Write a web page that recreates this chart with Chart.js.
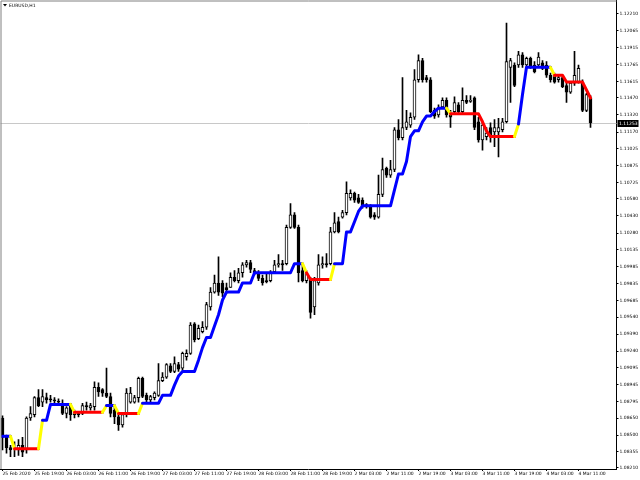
<!DOCTYPE html>
<html>
<head>
<meta charset="utf-8">
<script src="https://cdn.jsdelivr.net/npm/chart.js@4.4.1/dist/chart.umd.min.js"></script>
<style>
  html, body { margin: 0; padding: 0; background: #fff; }
  canvas { display: block; }
</style>
</head>
<body>
<canvas id="chart" width="640" height="480"></canvas>
<script>
// EURUSD H1, 25 Feb 2020 11:00 .. 4 Mar 14:00
const openPrices = [
  1.0865, 1.0848, 1.0839, 1.0838, 1.0837, 1.0841, 1.0837, 1.0865, 1.0868, 1.0883,
  1.0879, 1.0883, 1.0882, 1.0881, 1.0880, 1.0878, 1.0869, 1.0876, 1.0869, 1.0869,
  1.0869, 1.0876, 1.0874, 1.0875, 1.0892, 1.0890, 1.0887, 1.0884, 1.0872, 1.0866,
  1.0859, 1.0868, 1.0879, 1.0879, 1.0883, 1.0900, 1.0885, 1.0881, 1.0883, 1.0885,
  1.0898, 1.0901, 1.0911, 1.0906, 1.0912, 1.0909, 1.0919, 1.0922, 1.0948, 1.0935,
  1.0941, 1.0945, 1.0963, 1.0976, 1.0984, 1.0984, 1.0980, 1.0980, 1.0989, 1.0986,
  1.0993, 1.1000, 1.1002, 1.0995, 1.0993, 1.0988, 1.0986, 1.0986, 1.0994, 1.1000,
  1.1001, 1.1001, 1.1033, 1.1044, 1.1033, 1.0995, 1.0986, 1.0987, 1.0963, 1.0984,
  1.1000, 1.1001, 1.1001, 1.1029, 1.1038, 1.1042, 1.1046, 1.1059, 1.1063, 1.1059,
  1.1057, 1.1053, 1.1051, 1.1044, 1.1042, 1.1062, 1.1085, 1.1079, 1.1084, 1.1119,
  1.1112, 1.1121, 1.1123, 1.1130, 1.1163, 1.1180, 1.1165, 1.1163, 1.1136, 1.1132,
  1.1139, 1.1145, 1.1132, 1.1135, 1.1141, 1.1135, 1.1145, 1.1144, 1.1147, 1.1126,
  1.1110, 1.1113, 1.1121, 1.1117, 1.1117, 1.1119, 1.1126, 1.1174, 1.1176, 1.1176,
  1.1185, 1.1176, 1.1182, 1.1176, 1.1176, 1.1178, 1.1176, 1.1167, 1.1167, 1.1163,
  1.1165, 1.1158, 1.1152, 1.1160, 1.1161, 1.1161, 1.1136, 1.1147
];
const highPrices = [
  1.0867, 1.0850, 1.0841, 1.0844, 1.0846, 1.0848, 1.0866, 1.0875, 1.0884, 1.0890,
  1.0890, 1.0887, 1.0885, 1.0883, 1.0882, 1.0881, 1.0875, 1.0878, 1.0872, 1.0870,
  1.0878, 1.0879, 1.0878, 1.0897, 1.0896, 1.0891, 1.0909, 1.0887, 1.0875, 1.0869,
  1.0870, 1.0891, 1.0892, 1.0885, 1.0901, 1.0901, 1.0887, 1.0885, 1.0888, 1.0913,
  1.0905, 1.0913, 1.0913, 1.0919, 1.0914, 1.0923, 1.0925, 1.0949, 1.0949, 1.0947,
  1.0950, 1.0967, 1.0980, 1.0991, 1.1007, 1.0986, 1.0984, 1.0993, 1.0995, 1.0997,
  1.1002, 1.1004, 1.1004, 1.0997, 1.0995, 1.0991, 1.0993, 1.0995, 1.1004, 1.1009,
  1.1004, 1.1035, 1.1054, 1.1046, 1.1035, 1.1000, 1.0995, 1.0989, 1.0989, 1.1009,
  1.1007, 1.1010, 1.1033, 1.1046, 1.1042, 1.1048, 1.1073, 1.1066, 1.1064, 1.1062,
  1.1059, 1.1054, 1.1053, 1.1046, 1.1079, 1.1094, 1.1086, 1.1092, 1.1121, 1.1128,
  1.1165, 1.1136, 1.1134, 1.1172, 1.1185, 1.1182, 1.1167, 1.1165, 1.1138, 1.1141,
  1.1147, 1.1147, 1.1136, 1.1148, 1.1143, 1.1156, 1.1149, 1.1149, 1.1148, 1.1130,
  1.1126, 1.1121, 1.1125, 1.1128, 1.1129, 1.1129, 1.1213, 1.1182, 1.1178, 1.1188,
  1.1187, 1.1183, 1.1183, 1.1179, 1.1187, 1.1180, 1.1179, 1.1169, 1.1169, 1.1167,
  1.1167, 1.1160, 1.1161, 1.1188, 1.1176, 1.1163, 1.1151, 1.1149
];
const lowPrices = [
  1.0837, 1.0834, 1.0831, 1.0831, 1.0832, 1.0831, 1.0834, 1.0863, 1.0866, 1.0875,
  1.0875, 1.0878, 1.0879, 1.0878, 1.0877, 1.0868, 1.0865, 1.0863, 1.0865, 1.0866,
  1.0868, 1.0872, 1.0872, 1.0872, 1.0884, 1.0884, 1.0883, 1.0866, 1.0860, 1.0854,
  1.0857, 1.0866, 1.0878, 1.0878, 1.0879, 1.0883, 1.0878, 1.0879, 1.0881, 1.0884,
  1.0897, 1.0900, 1.0905, 1.0905, 1.0906, 1.0907, 1.0916, 1.0921, 1.0932, 1.0934,
  1.0940, 1.0943, 1.0960, 1.0975, 1.0973, 1.0972, 1.0975, 1.0980, 1.0985, 1.0984,
  1.0989, 1.0998, 1.0993, 1.0991, 1.0986, 1.0982, 1.0984, 1.0985, 1.0993, 1.0998,
  1.0995, 1.1000, 1.1032, 1.1032, 1.0985, 1.0985, 1.0984, 1.0953, 1.0956, 1.0982,
  1.0997, 1.0998, 1.1000, 1.1028, 1.1028, 1.1041, 1.1044, 1.1057, 1.1055, 1.1054,
  1.1050, 1.1050, 1.1041, 1.1040, 1.1041, 1.1060, 1.1077, 1.1077, 1.1082, 1.1110,
  1.1110, 1.1119, 1.1121, 1.1128, 1.1161, 1.1161, 1.1161, 1.1134, 1.1129, 1.1130,
  1.1138, 1.1130, 1.1121, 1.1134, 1.1134, 1.1134, 1.1142, 1.1143, 1.1119, 1.1108,
  1.1101, 1.1110, 1.1108, 1.1104, 1.1095, 1.1117, 1.1125, 1.1143, 1.1157, 1.1174,
  1.1174, 1.1175, 1.1173, 1.1169, 1.1174, 1.1172, 1.1165, 1.1161, 1.1160, 1.1161,
  1.1156, 1.1143, 1.1151, 1.1158, 1.1160, 1.1135, 1.1135, 1.1121
];
const closePrices = [
  1.0848, 1.0839, 1.0837, 1.0839, 1.0841, 1.0835, 1.0865, 1.0869, 1.0883, 1.0876,
  1.0884, 1.0881, 1.0881, 1.0880, 1.0879, 1.0869, 1.0874, 1.0868, 1.0868, 1.0868,
  1.0876, 1.0875, 1.0876, 1.0892, 1.0888, 1.0887, 1.0884, 1.0869, 1.0866, 1.0859,
  1.0868, 1.0887, 1.0887, 1.0883, 1.0900, 1.0884, 1.0881, 1.0884, 1.0887, 1.0898,
  1.0901, 1.0912, 1.0906, 1.0913, 1.0908, 1.0922, 1.0922, 1.0947, 1.0934, 1.0944,
  1.0945, 1.0965, 1.0976, 1.0984, 1.0976, 1.0975, 1.0978, 1.0989, 1.0986, 1.0993,
  1.1000, 1.1002, 1.0996, 1.0993, 1.0988, 1.0984, 1.0985, 1.0993, 1.1000, 1.1001,
  1.1000, 1.1033, 1.1044, 1.1033, 1.0993, 1.0986, 1.0993, 1.0958, 1.0986, 1.1000,
  1.1001, 1.1000, 1.1029, 1.1037, 1.1029, 1.1046, 1.1063, 1.1063, 1.1057, 1.1055,
  1.1051, 1.1051, 1.1042, 1.1042, 1.1062, 1.1084, 1.1079, 1.1084, 1.1119, 1.1112,
  1.1121, 1.1126, 1.1130, 1.1163, 1.1180, 1.1163, 1.1163, 1.1135, 1.1131, 1.1138,
  1.1145, 1.1132, 1.1130, 1.1143, 1.1135, 1.1145, 1.1143, 1.1145, 1.1121, 1.1110,
  1.1123, 1.1116, 1.1114, 1.1121, 1.1121, 1.1126, 1.1179, 1.1180, 1.1158, 1.1185,
  1.1176, 1.1182, 1.1174, 1.1170, 1.1183, 1.1173, 1.1167, 1.1163, 1.1161, 1.1165,
  1.1157, 1.1152, 1.1160, 1.1167, 1.1173, 1.1136, 1.1150, 1.11253
];
// trend line of the indicator, one value per bar
const trendLine = [
  1.0849, 1.0849, 1.0849, 1.0838, 1.0838, 1.0838, 1.0838, 1.0838, 1.0838, 1.0838,
  1.0863, 1.0863, 1.0877, 1.0877, 1.0877, 1.0877, 1.0877, 1.0877, 1.0870, 1.0870,
  1.0870, 1.0870, 1.0870, 1.0870, 1.0870, 1.0870, 1.0876, 1.0876, 1.0876, 1.0869,
  1.0869, 1.0869, 1.0869, 1.0869, 1.0869, 1.0878, 1.0878, 1.0878, 1.0878, 1.0878,
  1.0885, 1.0885, 1.0885, 1.0894, 1.0902, 1.0906, 1.0906, 1.0906, 1.0906, 1.0916,
  1.0927, 1.0936, 1.0936, 1.0946, 1.0956, 1.0969, 1.0976, 1.0976, 1.0976, 1.0976,
  1.0984, 1.0984, 1.0984, 1.0993, 1.0993, 1.0993, 1.0993, 1.0993, 1.0993, 1.0993,
  1.0993, 1.0993, 1.0993, 1.1001, 1.1001, 1.1001, 1.0993, 1.0987, 1.0987, 1.0987,
  1.0987, 1.0987, 1.0987, 1.1001, 1.1001, 1.1001, 1.1029, 1.1029, 1.1038, 1.1047,
  1.1052, 1.1052, 1.1052, 1.1052, 1.1052, 1.1052, 1.1052, 1.1052, 1.1066, 1.1080,
  1.1080, 1.1091, 1.1113, 1.1118, 1.1118, 1.1126, 1.1131, 1.1131, 1.1135, 1.1138,
  1.1138, 1.1138, 1.1133, 1.1133, 1.1133, 1.1133, 1.1133, 1.1133, 1.1133, 1.1133,
  1.1126, 1.1118, 1.1113, 1.1113, 1.1113, 1.1113, 1.1113, 1.1113, 1.1113, 1.1124,
  1.1150, 1.1174, 1.1174, 1.1174, 1.1174, 1.1174, 1.1174, 1.1174, 1.1167, 1.1167,
  1.1167, 1.1161, 1.1161, 1.1161, 1.1161, 1.1161, 1.1154, 1.1147
];
// colour runs of the trend line segments: [state, number of segments]
const trendRuns = [
  ['up', 2], ['flip', 1], ['down', 6], ['flip', 1], ['up', 7], ['flip', 1],
  ['down', 7], ['flip', 1], ['up', 2], ['flip', 1], ['down', 5], ['flip', 1],
  ['up', 40], ['flip', 1], ['down', 6], ['flip', 1], ['up', 28], ['flip', 1],
  ['down', 16], ['flip', 1], ['up', 8], ['flip', 1], ['down', 9]
];
const priceTicks = [
  1.12210, 1.12065, 1.11915, 1.11765, 1.11615, 1.11470, 1.11320, 1.11170, 1.11025,
  1.10875, 1.10725, 1.10580, 1.10430, 1.10280, 1.10135, 1.09985, 1.09835, 1.09685,
  1.09540, 1.09390, 1.09240, 1.09095, 1.08945, 1.08795, 1.08650, 1.08500, 1.08355,
  1.08210
];
const timeTicks = [
  '25 Feb 2020', '25 Feb 19:00', '26 Feb 03:00', '26 Feb 11:00', '26 Feb 19:00',
  '27 Feb 03:00', '27 Feb 11:00', '27 Feb 19:00', '28 Feb 03:00', '28 Feb 11:00',
  '28 Feb 19:00', '2 Mar 03:00', '2 Mar 11:00', '2 Mar 19:00', '3 Mar 03:00',
  '3 Mar 11:00', '3 Mar 19:00', '4 Mar 03:00', '4 Mar 11:00'
];
const symbolTitle = 'EURUSD,H1';
const lastPrice = 1.11253;
const barsPerTick = 8;
const shiftBars = 6;

const trendColors = { up: '#0000ff', down: '#ff0000', flip: '#ffff00' };
const FONT = 'Tahoma, "DejaVu Sans", sans-serif';

const segmentColors = [];
trendRuns.forEach(([state, count]) => {
  for (let k = 0; k < count; k++) segmentColors.push(trendColors[state]);
});

const slotCount = openPrices.length + shiftBars;
const labels = Array.from({ length: slotCount }, (_, i) => i);
const wicks = lowPrices.map((low, i) => [low, highPrices[i]]);
const bodies = openPrices.map((open, i) => [open, closePrices[i]]);
const bodyFill = openPrices.map((open, i) => (closePrices[i] >= open ? '#ffffff' : '#000000'));

// chart.js reserves half a label on each end of an axis; the terminal does not
function dropEdgePadding(scale) {
  scale.paddingTop = 0;
  scale.paddingBottom = 0;
  scale.paddingLeft = 0;
  scale.paddingRight = 0;
}

const terminalPlugin = {
  id: 'terminal',
  beforeDatasetsDraw(chart) {
    const { ctx, chartArea: area, scales } = chart;
    const py = Math.round(scales.y.getPixelForValue(lastPrice)) + 0.5;
    ctx.save();
    ctx.strokeStyle = '#c8c8c8';
    ctx.lineWidth = 1;
    ctx.beginPath();
    ctx.moveTo(area.left, py);
    ctx.lineTo(area.right, py);
    ctx.stroke();
    ctx.restore();
  },
  afterDraw(chart) {
    const { ctx, chartArea: area, scales } = chart;
    ctx.save();
    // frame on the left and top
    ctx.strokeStyle = '#808080';
    ctx.lineWidth = 1;
    ctx.beginPath();
    ctx.moveTo(1, area.bottom);
    ctx.lineTo(1, 1);
    ctx.lineTo(area.right, 1);
    ctx.stroke();

    // symbol caption
    ctx.fillStyle = '#000';
    ctx.beginPath();
    ctx.moveTo(3, 4);
    ctx.lineTo(7, 4);
    ctx.lineTo(5, 6.5);
    ctx.closePath();
    ctx.fill();
    ctx.font = '4.5px ' + FONT;
    ctx.textBaseline = 'middle';
    ctx.textAlign = 'left';
    ctx.fillText(symbolTitle, 9, 5.5);

    // current price tag
    const py = Math.round(scales.y.getPixelForValue(lastPrice)) + 0.5;
    ctx.fillStyle = '#000';
    ctx.fillRect(area.right + 1, py - 3.5, 21, 7);
    ctx.fillStyle = '#fff';
    ctx.fillText(lastPrice.toFixed(5), area.right + 2.5, py + 0.2);
    ctx.restore();
  }
};

new Chart(document.getElementById('chart'), {
  data: {
    labels,
    datasets: [
      {
        type: 'line',
        data: trendLine,
        borderWidth: 3,
        borderCapStyle: 'round',
        borderJoinStyle: 'round',
        pointRadius: 0,
        tension: 0,
        order: 0,
        segment: {
          borderColor: (ctx) => segmentColors[ctx.p0DataIndex] || trendColors.up,
        },
      },
      {
        type: 'bar',
        data: bodies,
        grouped: false,
        barThickness: 3,
        minBarLength: 1,
        borderSkipped: false,
        borderWidth: 1,
        borderColor: '#000000',
        backgroundColor: bodyFill,
        order: 1,
      },
      {
        type: 'bar',
        data: wicks,
        grouped: false,
        barThickness: 1,
        borderWidth: 0,
        backgroundColor: '#000000',
        order: 2,
      },
    ],
  },
  options: {
    responsive: false,
    animation: false,
    events: [],
    layout: { padding: { left: 0.5, top: 0, right: 0, bottom: 0 } },
    plugins: { legend: { display: false }, tooltip: { enabled: false } },
    scales: {
      x: {
        type: 'category',
        offset: true,
        grid: { drawOnChartArea: false, offset: false, tickLength: 2, color: '#000' },
        border: { display: true, color: '#000' },
        afterBuildTicks: (scale) => {
          scale.ticks = scale.ticks.filter(
            (t) => t.value % barsPerTick === 0 && t.value / barsPerTick < timeTicks.length
          );
        },
        ticks: {
          autoSkip: false,
          maxRotation: 0,
          minRotation: 0,
          align: 'start',
          padding: 0.5,
          color: '#000',
          font: { size: 4.5, family: FONT },
          callback: (value) => timeTicks[value / barsPerTick] || '',
        },
        afterFit: (scale) => {
          scale.height = 11;
          dropEdgePadding(scale);
        },
      },
      y: {
        position: 'right',
        min: 1.08201,
        max: 1.12333,
        grid: { drawOnChartArea: false, tickLength: 2, color: '#000' },
        border: { display: true, color: '#000' },
        afterBuildTicks: (scale) => {
          scale.ticks = priceTicks.map((value) => ({ value }));
        },
        ticks: {
          autoSkip: false,
          padding: 1,
          color: '#000',
          font: { size: 4.5, family: FONT },
          callback: (value) => Number(value).toFixed(5),
        },
        afterFit: (scale) => {
          scale.width = 23.5;
          dropEdgePadding(scale);
        },
      },
    },
  },
  plugins: [terminalPlugin],
});
</script>
</body>
</html>
